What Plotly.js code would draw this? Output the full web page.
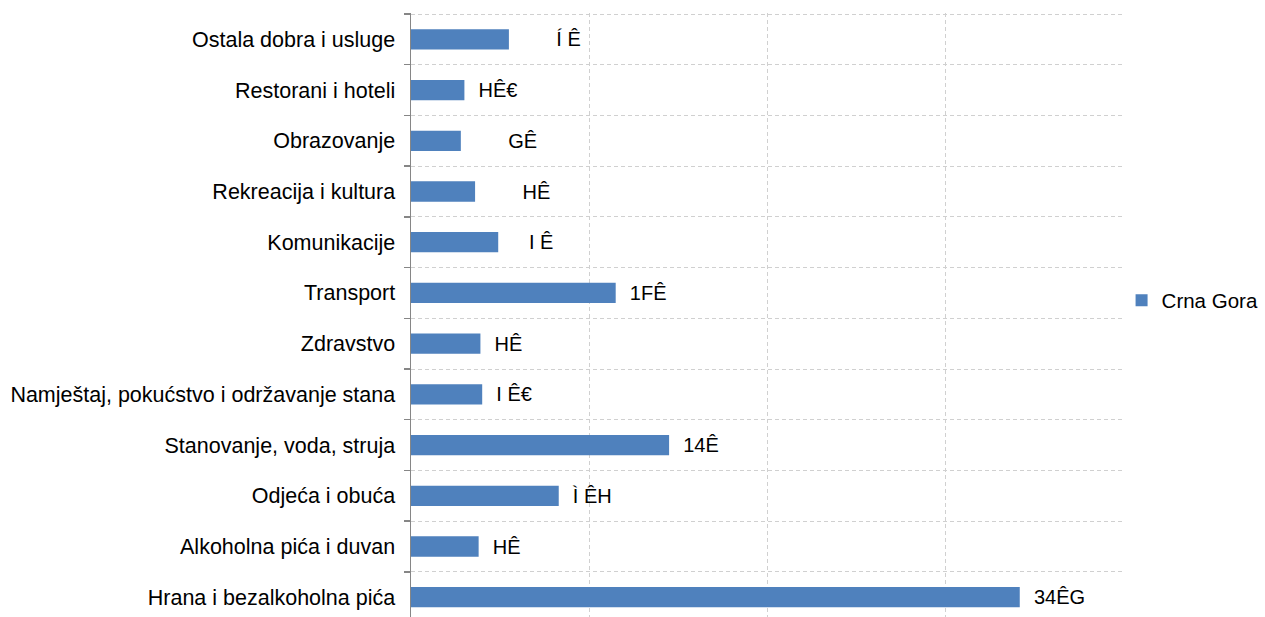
<!DOCTYPE html>
<html>
<head>
<meta charset="utf-8">
<script src="https://cdn.plot.ly/plotly-3.0.1.min.js"></script>
<style>html,body{margin:0;padding:0;background:#fff;}#chart{width:1265px;height:617px;}</style>
</head>
<body>
<div id="chart"></div>
<script>
// Categories listed bottom to top
var categories = [
  "Hrana i bezalkoholna pića",
  "Alkoholna pića i duvan",
  "Odjeća i obuća",
  "Stanovanje, voda, struja",
  "Namještaj, pokućstvo i održavanje stana",
  "Zdravstvo",
  "Transport",
  "Komunikacije",
  "Rekreacija i kultura",
  "Obrazovanje",
  "Restorani i hoteli",
  "Ostala dobra i usluge"
];
var values = [34.2, 3.8, 8.3, 14.5, 4.0, 3.9, 11.5, 4.9, 3.6, 2.8, 3.0, 5.5];
// Data labels as they appear in the reference (garbled glyphs)
var labels = [
  "\u00a0\u00a034ÊG",
  "\u00a0\u00a0HÊ",
  "\u00a0\u00a0Ì ÊH",
  "\u00a0\u00a014Ê",
  "\u00a0\u00a0I Ê€",
  "\u00a0\u00a0HÊ",
  "\u00a0\u00a01FÊ",
  "\u00a0\u00a0\u00a0\u00a0\u00a0I Ê",
  "\u00a0\u00a0\u00a0\u00a0\u00a0\u00a0\u00a0\u00a0HÊ",
  "\u00a0\u00a0\u00a0\u00a0\u00a0\u00a0\u00a0\u00a0GÊ",
  "\u00a0\u00a0HÊ€",
  "\u00a0\u00a0\u00a0\u00a0\u00a0\u00a0\u00a0\u00a0Í Ê"
];
var seriesName = "Crna Gora";

var font = "Liberation Sans, Arial, sans-serif";

var trace = {
  type: "bar",
  orientation: "h",
  y: categories,
  x: values,
  name: seriesName,
  text: labels,
  textposition: "outside",
  constraintext: "none",
  cliponaxis: false,
  textfont: {family: font, size: 20, color: "#000"},
  marker: {color: "#4f81bd", line: {width: 0}},
  showlegend: true,
  hoverinfo: "x+y"
};

var layout = {
  width: 1265,
  height: 617,
  margin: {l: 411, r: 142, t: 13, b: 0, pad: 0, autoexpand: false},
  paper_bgcolor: "#ffffff",
  plot_bgcolor: "#ffffff",
  font: {family: font, size: 21, color: "#000"},
  bargap: 0.6,
  xaxis: {
    range: [0, 40],
    dtick: 10,
    showticklabels: false,
    ticks: "",
    showgrid: true,
    gridcolor: "#d0d0d0",
    griddash: "4px,3px",
    gridwidth: 1,
    zeroline: false,
    showline: false
  },
  yaxis: {
    type: "category",
    categoryorder: "array",
    categoryarray: categories,
    range: [-0.39, 11.52],
    tickson: "boundaries",
    ticks: "outside",
    ticklen: 6,
    tickcolor: "#868686",
    tickwidth: 1.5,
    ticklabelstandoff: 10,
    showgrid: true,
    gridcolor: "#d0d0d0",
    griddash: "4px,3px",
    gridwidth: 1,
    showline: true,
    linecolor: "#868686",
    linewidth: 1.5,
    tickfont: {family: font, size: 21.5, color: "#000"}
  },
  legend: {
    x: 0.998,
    xanchor: "left",
    y: 0.524,
    yanchor: "middle",
    font: {family: font, size: 20.5, color: "#000"},
    bgcolor: "rgba(0,0,0,0)",
    itemwidth: 30
  },
  showlegend: true
};

Plotly.newPlot("chart", [trace], layout, {staticPlot: true, displayModeBar: false});
</script>
</body>
</html>
